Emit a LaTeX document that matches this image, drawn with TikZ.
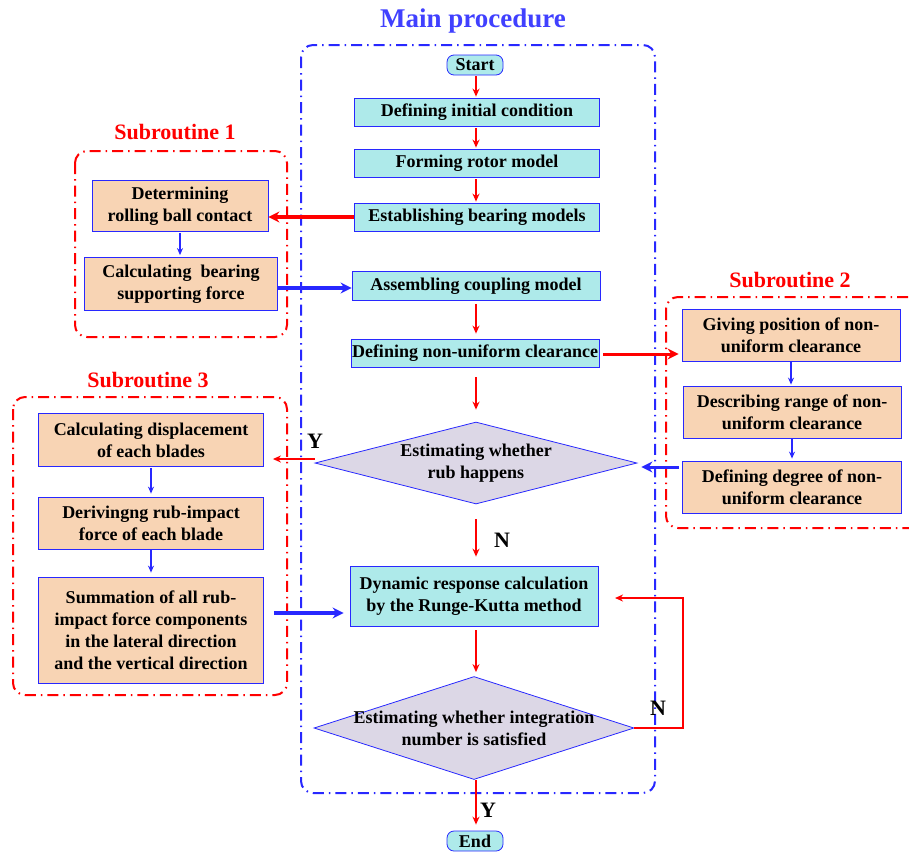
\documentclass[tikz,border=0pt]{standalone}
\usepackage{fontspec}
\setmainfont{Liberation Serif}
\usetikzlibrary{shapes.geometric,arrows.meta}
\definecolor{cyanfill}{RGB}{174,234,234}
\definecolor{tanfill}{RGB}{248,212,180}
\definecolor{lavfill}{RGB}{220,215,230}
\definecolor{bblue}{RGB}{40,40,255}
\definecolor{tblue}{RGB}{64,64,255}
\definecolor{rred}{RGB}{255,0,0}
\tikzset{
  txt/.style={font=\bfseries\fontsize{18}{22}\selectfont},
  mainbox/.style={txt, draw=bblue, line width=0.8pt, fill=cyanfill, inner sep=0pt, align=center},
  subbox/.style={txt, draw=bblue, line width=0.8pt, fill=tanfill, inner sep=0pt, align=center},
  decide/.style={diamond, draw=bblue, fill=lavfill, line width=0.8pt, inner sep=0pt},
  dtext/.style={txt, align=center, inner sep=0pt},
  term/.style={txt, rounded corners=7pt, draw=bblue, fill=cyanfill, line width=0.8pt, inner sep=0pt, minimum width=56pt, minimum height=20pt},
  redarr/.style={draw=rred, line width=1.6pt, -{Stealth[length=8pt,width=7pt]}},
  redthick/.style={draw=rred, line width=3.5pt, -{Stealth[length=11pt,width=11pt]}},
  bluethick/.style={draw=bblue, line width=3.5pt, -{Stealth[length=11pt,width=11pt]}},
  bluearr/.style={draw=bblue, line width=1.3pt, -{Stealth[length=7pt,width=6pt]}},
  grpmain/.style={draw=bblue, line width=2pt, rounded corners=12pt, dash pattern=on 11pt off 5pt on 1.5pt off 5pt},
  grpsub/.style={draw=rred, line width=2pt, rounded corners=12pt, dash pattern=on 11pt off 5pt on 1.5pt off 5pt},
  ttl/.style={font=\bfseries\fontsize{22}{24}\selectfont, text=rred, inner sep=0pt},
  yn/.style={font=\bfseries\fontsize{22}{24}\selectfont, inner sep=0pt},
}
\begin{document}
\begin{tikzpicture}[x=1pt,y=-1pt]
\useasboundingbox (0,0) rectangle (909,852);
% group frames
\draw[grpmain] (301,45) rectangle (655,793);
\draw[grpsub] (75,151) rectangle (287,337);
\draw[grpsub] (666,297) rectangle (930,528);
\draw[grpsub] (13,397) rectangle (287,695);
% titles
\node[font=\bfseries\fontsize{27}{30}\selectfont, text=tblue, inner sep=0pt] (tmain) at (473,21) {Main procedure};
\node[ttl] (t1) at (175,132) {Subroutine 1};
\node[ttl] (t2) at (790,280) {Subroutine 2};
\node[ttl] (t3) at (148,380) {Subroutine 3};
% main column
\node[term] (start) at (475,65) {Start};
\node[mainbox, minimum width=245pt, minimum height=28pt] (init) at (477,112) {Defining initial condition};
\node[mainbox, minimum width=245pt, minimum height=28pt] (rotor) at (477,163) {Forming rotor model};
\node[mainbox, minimum width=245pt, minimum height=28pt] (bear) at (477,217) {Establishing bearing models};
\node[mainbox, minimum width=248pt, minimum height=29pt] (assem) at (476,286) {Assembling coupling model};
\node[mainbox, minimum width=248pt, minimum height=28pt] (nonu) at (475,353) {Defining non-uniform clearance};
\node[decide, minimum width=322pt, minimum height=82pt] (d1) at (476,463) {};
\node[dtext] (d1t) at (476,463) {Estimating whether\\rub happens};
\node[mainbox, minimum width=248pt, minimum height=60pt] (dyn) at (474,596) {Dynamic response calculation\\by the Runge-Kutta method};
\node[decide, minimum width=320pt, minimum height=103pt] (d2) at (474,728) {};
\node[dtext] (d2t) at (474,728) {Estimating whether integration\\number is satisfied};
\node[term] (endn) at (475,841) {End};
% subroutine 1
\node[subbox, minimum width=176pt, minimum height=51pt] (ball) at (180,206) {Determining\\rolling ball contact};
\node[subbox, minimum width=193pt, minimum height=53pt] (bforce) at (181,284) {Calculating\ \ bearing\\supporting force};
% subroutine 2
\node[subbox, minimum width=218pt, minimum height=52pt] (pos) at (791,335) {Giving position of non-\\uniform clearance};
\node[subbox, minimum width=218pt, minimum height=52pt] (range) at (792,412) {Describing range of non-\\uniform clearance};
\node[subbox, minimum width=219pt, minimum height=52pt] (degree) at (792,487) {Defining degree of non-\\uniform clearance};
% subroutine 3
\node[subbox, minimum width=225pt, minimum height=53pt] (disp) at (151,440) {Calculating displacement\\of each blades};
\node[subbox, minimum width=225pt, minimum height=52pt] (deriv) at (151,523) {Derivingng rub-impact\\force of each blade};
\node[subbox, minimum width=225pt, minimum height=106pt] (summ) at (151,630) {Summation of all rub-\\impact force components\\in the lateral direction\\and the vertical direction};
% main arrows (vertical)
\coordinate (ax) at (476,0);
\draw[redarr] ([yshift=-1pt]ax |- start.south) -- ([yshift=1pt]ax |- init.north);
\draw[redarr] ([yshift=-2pt]ax |- init.south) -- ([yshift=1pt]ax |- rotor.north);
\draw[redarr] ([yshift=-2pt]ax |- rotor.south) -- ([yshift=1pt]ax |- bear.north);
\draw[redarr] ([yshift=-3pt]ax |- assem.south) -- ([yshift=5pt]ax |- nonu.north);
\draw[redarr] ([yshift=-10pt]ax |- nonu.south) -- ([yshift=12pt]ax |- d1.north);
\draw[redarr] ([yshift=-15pt]ax |- d1.south) -- ([yshift=9pt]ax |- dyn.north);
\draw[redarr] ([yshift=-4pt]ax |- dyn.south) -- ([yshift=4pt]ax |- d2.north);
\draw[redarr] (ax |- d2.south) -- ([yshift=6pt]ax |- endn.north);
\coordinate (fb) at (683,728);
\coordinate (fbend) at (615,598);
\draw[redarr, line width=2.2pt] (d2.east) -| (fb |- fbend) -- (fbend);
% cross links
\draw[redthick] (bear.west) -- (bear.west -| ball.east);
\draw[bluethick] ([yshift=-4pt]bforce.east) -- ([yshift=-4pt]bforce.east -| assem.west);
\draw[redthick, line width=3pt] ([xshift=4pt, yshift=-1pt]nonu.east) -- ([xshift=-3pt, yshift=-1pt]nonu.east -| pos.west);
\draw[bluethick, line width=3pt] ([xshift=-3pt, yshift=20pt]degree.west) -- ([xshift=4pt, yshift=20pt]degree.west -| d1.east);
\draw[redarr, line width=2.2pt] ([yshift=4pt]d1.west) -- ([xshift=9pt, yshift=4pt]d1.west -| disp.east);
\draw[bluethick] ([xshift=10pt, yshift=17pt]summ.east) -- ([xshift=-6pt, yshift=17pt]summ.east -| dyn.west);
% subroutine arrows
\draw[bluearr] ([yshift=-1pt]ball.south) -- ([yshift=2pt]ball.south |- bforce.north);
\draw[bluearr] ([yshift=-1pt]pos.south) -- ([yshift=1pt]pos.south |- range.north);
\draw[bluearr] ([yshift=-1pt]range.south) -- ([yshift=2pt]range.south |- degree.north);
\draw[bluearr] ([yshift=-1pt]disp.south) -- ([yshift=3pt]disp.south |- deriv.north);
\draw[bluearr] ([yshift=-1pt]deriv.south) -- ([yshift=4pt]deriv.south |- summ.north);
% labels
\node[yn] (ly1) at (315,441) {Y};
\node[yn] (ln1) at (502,540) {N};
\node[yn] (ln2) at (658,708) {N};
\node[yn] (ly2) at (488,810) {Y};
\end{tikzpicture}
\end{document}
